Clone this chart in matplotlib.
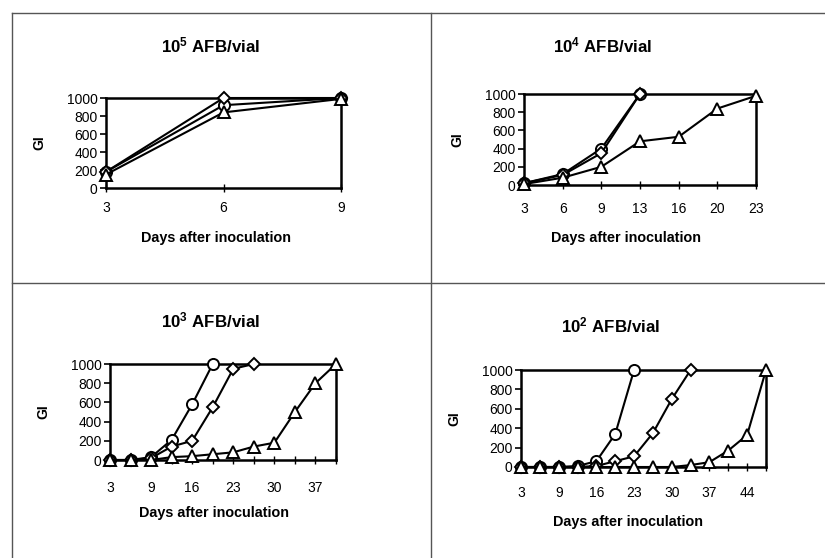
import matplotlib
matplotlib.use("Agg")
import matplotlib.pyplot as plt
from matplotlib.lines import Line2D
from matplotlib import font_manager

names = {f.name for f in font_manager.fontManager.ttflist}
if 'Liberation Sans Narrow' in names:
    LAB = 'Liberation Sans Narrow'
    k = 1.0
else:
    LAB = 'Liberation Sans'
    k = 0.9

plt.rcParams['font.family'] = ['Liberation Sans', 'DejaVu Sans']
plt.rcParams['mathtext.fontset'] = 'custom'
plt.rcParams['mathtext.rm'] = LAB
plt.rcParams['mathtext.bf'] = LAB + ':bold'

# ---------------- data ----------------
days_p1 = [3, 6, 9]
circle_p1 = [180, 920, 1000]
diamond_p1 = [180, 1000, 1000]
triangle_p1 = [150, 840, 990]

days_p2 = [3, 6, 9, 13, 16, 20, 23]
circle_p2 = [20, 120, 400, 1000]
diamond_p2 = [20, 110, 350, 1000]
triangle_p2 = [10, 80, 200, 480, 530, 840, 980]

days_p3 = [3, 6, 9, 13, 16, 20, 23, 27, 30, 34, 37, 41]
circle_p3 = [0, 0, 30, 210, 580, 1000]
diamond_p3 = [0, 0, 20, 140, 200, 550, 950, 1000]
triangle_p3 = [0, 0, 0, 30, 40, 60, 80, 140, 180, 500, 800, 1000]

days_p4 = [3, 6, 9, 13, 16, 20, 23, 27, 30, 34, 37, 41, 44, 48]
circle_p4 = [0, 0, 0, 10, 60, 340, 1000]
diamond_p4 = [0, 0, 0, 0, 10, 60, 110, 350, 700, 1000]
triangle_p4 = [0, 0, 0, 0, 0, 0, 0, 0, 0, 20, 50, 170, 330, 1000]

titles = [r'$\mathbf{10^{5}}$ AFB/vial', r'$\mathbf{10^{4}}$ AFB/vial',
          r'$\mathbf{10^{3}}$ AFB/vial', r'$\mathbf{10^{2}}$ AFB/vial']
yticks = [0, 200, 400, 600, 800, 1000]
xlabel_text = 'Days after inoculation'
ylabel_text = 'GI'

W, H = 825, 558
fig = plt.figure(figsize=(W / 100, H / 100), dpi=100)

def rect(x0, x1, y0, y1):
    return [x0 / W, 1 - y1 / H, (x1 - x0) / W, (y1 - y0) / H]

# (axes rect, days, series, label step, tick pad, title x,y, xlabel x,y)
panels = [
    (rect(106, 341, 98, 188), days_p1, [circle_p1, diamond_p1, triangle_p1], 1, 6, 210, 45, 216, 238),
    (rect(524, 756, 94, 185), days_p2, [circle_p2, diamond_p2, triangle_p2], 1, 9, 602, 45, 626, 238),
    (rect(110, 336, 364, 460), days_p3, [circle_p3, diamond_p3, triangle_p3], 2, 12, 210, 320, 214, 513),
    (rect(521, 766, 370, 467), days_p4, [circle_p4, diamond_p4, triangle_p4], 2, 11, 610, 325, 628, 522),
]
markers = ['o', 'D', '^']
msizes = [8, 6, 9]

for i, (r, days, series, step, tpad, tx, ty, xlx, xly) in enumerate(panels):
    ax = fig.add_axes(r)
    idx = list(range(len(days)))
    for s, m, ms in zip(series, markers, msizes):
        ax.plot(idx[:len(s)], s, color='black', lw=1.5, marker=m, ms=ms,
                mfc='white', mec='black', mew=1.4, clip_on=False, zorder=3)
    ax.set_xlim(0, len(days) - 1)
    ax.set_ylim(0, 1000)
    ax.set_yticks(yticks)
    ax.set_xticks(idx[::step])
    ax.set_xticklabels([str(d) for d in days[::step]])
    if step > 1:
        ax.set_xticks(idx, minor=True)
    for sp in ax.spines.values():
        sp.set_linewidth(1.8)
    ax.tick_params(axis='y', direction='out', length=4, width=1.2, labelsize=10, pad=2)
    ax.tick_params(axis='x', which='both', direction='inout', length=6, width=1.0,
                   labelsize=10, pad=tpad)
    ax.set_ylabel(ylabel_text, fontweight='bold', fontsize=10, labelpad=15)
    fig.text(xlx / W, 1 - xly / H, xlabel_text, ha='center', va='center',
             fontweight='bold', fontsize=11.5 * k, family=LAB)
    fig.text(tx / W, 1 - ty / H, titles[i], ha='center', va='center',
             fontweight='bold', fontsize=13.5 * k, family=LAB)

# panel frame lines
frame = dict(color='#555555', lw=1.0)
fig.add_artist(Line2D([12 / W, 1], [1 - 13 / H, 1 - 13 / H], **frame))
fig.add_artist(Line2D([12 / W, 12 / W], [0, 1 - 13 / H], **frame))
fig.add_artist(Line2D([431 / W, 431 / W], [0, 1 - 13 / H], **frame))
fig.add_artist(Line2D([12 / W, 1], [1 - 283 / H, 1 - 283 / H], **frame))

fig.savefig('out.png', dpi=100, facecolor='white')
